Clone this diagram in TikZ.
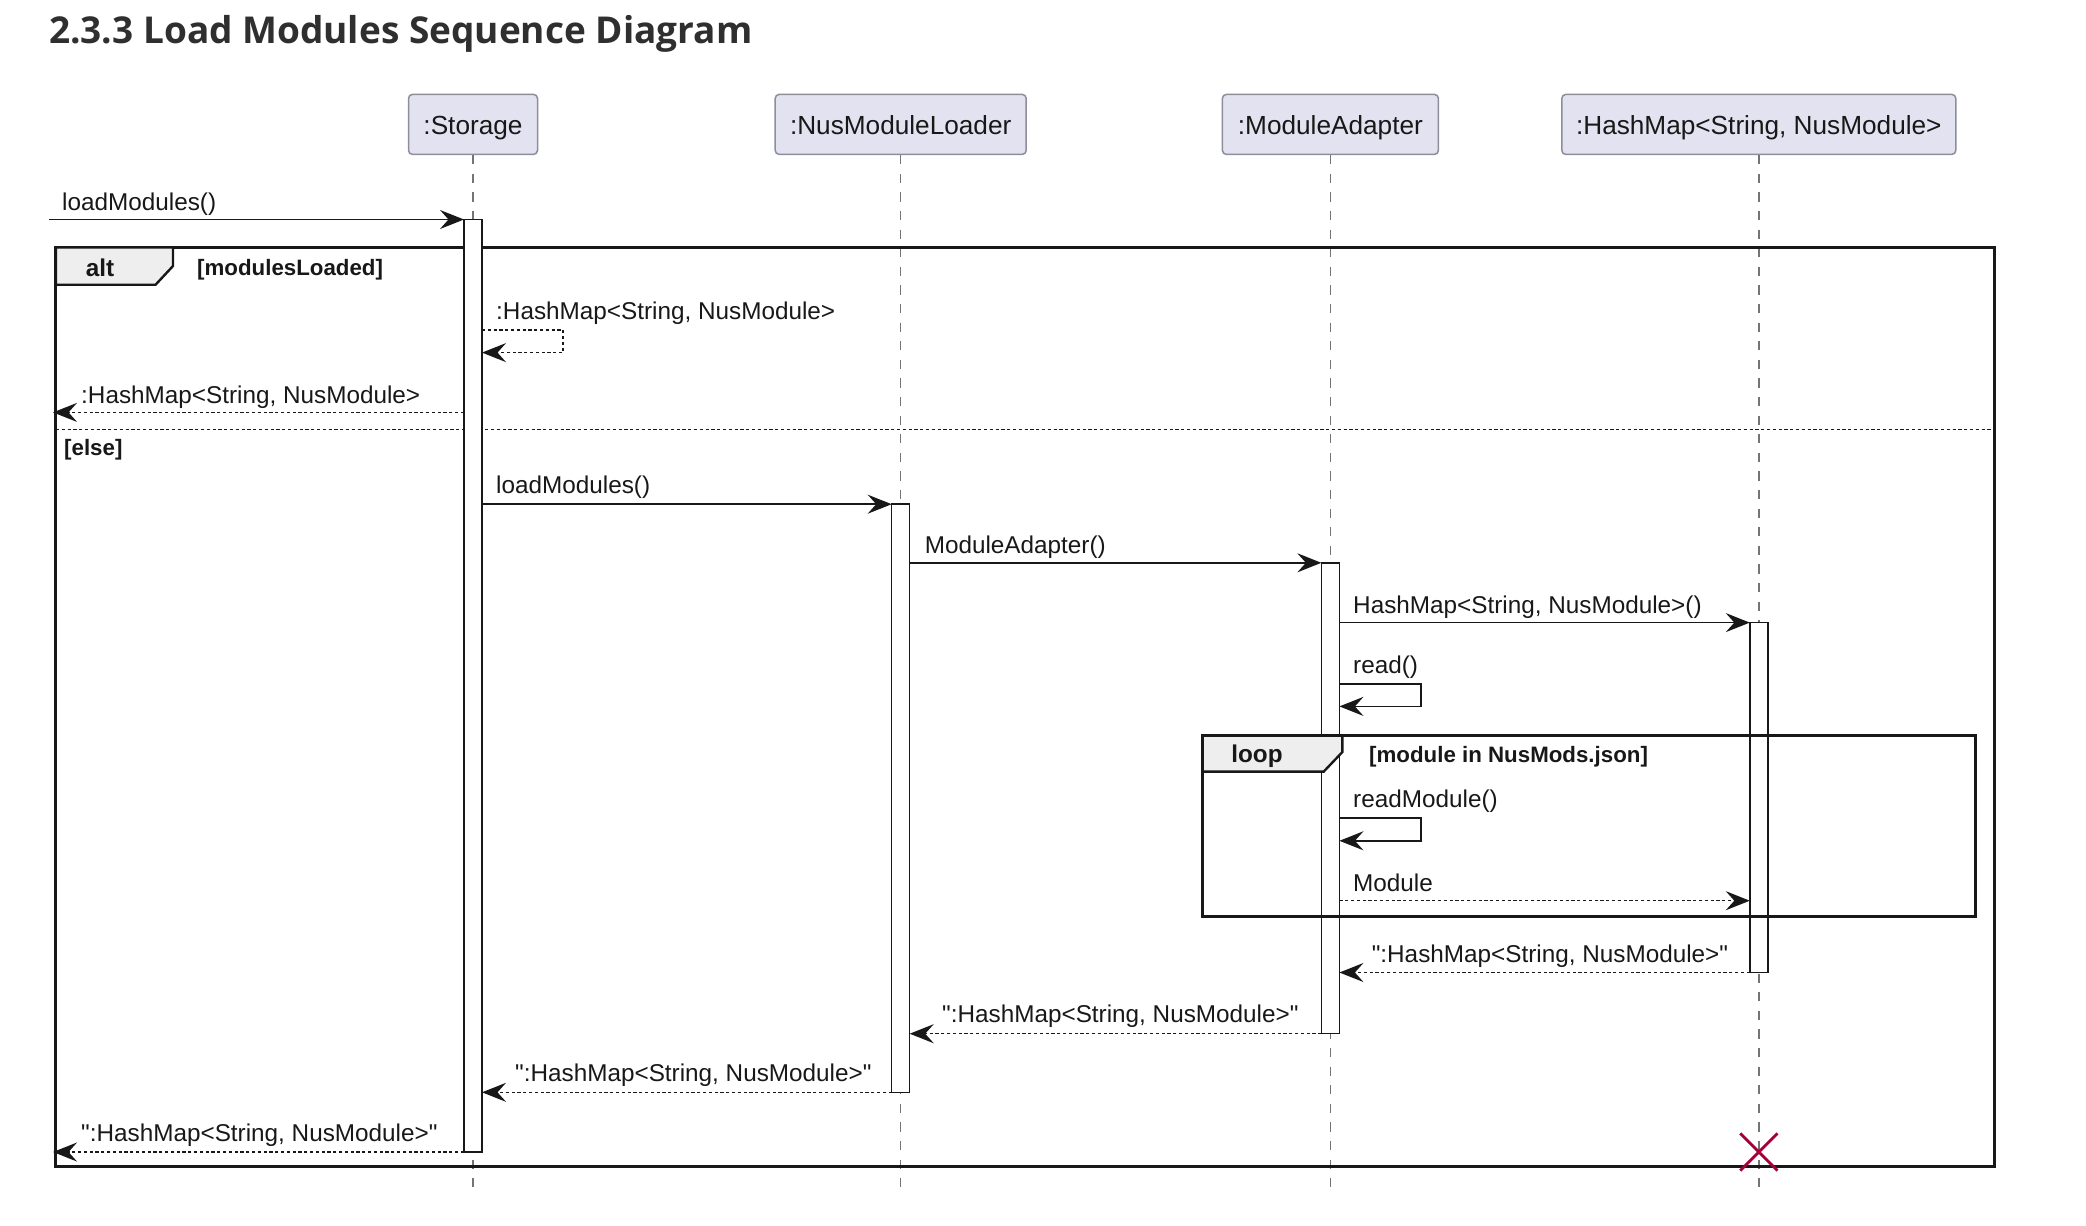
\documentclass[tikz,border=0pt]{standalone}
\usepackage{fontspec}
\setmainfont{Liberation Sans}
\newfontfamily\titlefont{Open Sans}
\usetikzlibrary{arrows.meta}
\newcommand\dq{\XeTeXglyph\XeTeXcharglyph"22\relax}
\definecolor{ink}{HTML}{181818}
\definecolor{partfill}{HTML}{E2E2F0}
\definecolor{partdraw}{HTML}{8E8E9A}
\definecolor{tabfill}{HTML}{EEEEEE}
\definecolor{destroyc}{HTML}{A80036}
\tikzset{
  tip/.tip={Stealth[length=24pt,width=19pt,inset=8.5pt]},
  msg/.style={draw=ink, line width=1.5pt, -tip},
  ret/.style={msg, dash pattern=on 3.2pt off 2.6pt},
  lbl/.style={anchor=base west, inner sep=0pt, font=\fontsize{24.3}{29}\selectfont, text=ink},
  part/.style={draw=partdraw, fill=partfill, rounded corners=4pt, line width=1.5pt,
    font=\fontsize{26.2}{31}\selectfont, minimum height=60pt, inner sep=0pt, text=ink,
    text height=20pt, text depth=0pt},
  act/.style={draw=ink, fill=white, line width=1.5pt},
  lifeline/.style={draw=ink!60, line width=1.4pt, dash pattern=on 9.3pt off 9.3pt},
  framebox/.style={draw=ink, line width=3pt},
  tabbox/.style={draw=ink, fill=tabfill, line width=2.4pt, line join=miter},
  tabtext/.style={inner sep=0pt, font=\fontsize{24.3}{29}\selectfont\bfseries, text=ink},
  guard/.style={anchor=base west, inner sep=0pt, font=\fontsize{22.3}{26}\selectfont\bfseries, text=ink},
  sep/.style={draw=ink, line width=1.5pt, dash pattern=on 3.2pt off 2.6pt},
  destroyx/.style={draw=destroyc, line width=2.8pt},
}
\begin{document}
\begin{tikzpicture}[x=1pt,y=-1pt]
\useasboundingbox (0,0) rectangle (2086,1226);
% title
\node[anchor=base west, inner sep=0pt, font=\titlefont\fontsize{37}{44}\selectfont\bfseries, text=ink!90] (title) at (49,43) {2.3.3 Load Modules Sequence Diagram};

% participants
\node[part, minimum width=129pt] (p1) at (473,124.4) {:Storage};
\node[part, minimum width=251pt] (p2) at (900.7,124.4) {:NusModuleLoader};
\node[part, minimum width=216pt] (p3) at (1330.4,124.4) {:ModuleAdapter};
\node[part, minimum width=394pt] (p4) at (1758.8,124.4) {:HashMap<String, NusModule>};

% lifeline ends
\coordinate (e1) at (473,1191);
\coordinate (e2) at (900.7,1191);
\coordinate (e3) at (1330.4,1191);
\coordinate (e4) at (1758.8,1191);
\draw[lifeline] (p1.south) -- (e1);
\draw[lifeline] (p2.south) -- (e2);
\draw[lifeline] (p3.south) -- (e3);
\draw[lifeline] (p4.south) -- (e4);

% frames
\draw[framebox] (55.9,247.5) rectangle (1994.3,1166.8);
\draw[tabbox] (55.9,247.5) -- (173,247.5) -- (173,266) -- (155.6,284.7) -- (55.9,284.7) -- cycle;
\node[tabtext] (altlbl) at (100,268) {alt};
\node[guard] (g1) at (197,275.5) {[modulesLoaded]};
\draw[sep] (55.9,429.7) -- (1994.3,429.7);
\node[guard] (g2) at (64,455) {[else]};

% activation bars
\draw[act] (464,219.5) rectangle (482,1152);
\draw[act] (891.7,504.2) rectangle (909.7,1092.3);
\draw[act] (1321.4,562.8) rectangle (1339.4,1033.7);
\draw[act] (1749.8,622.6) rectangle (1767.8,972.5);

% loop frame
\draw[framebox] (1202.7,735.7) rectangle (1975.6,916.6);
\draw[tabbox] (1202.7,735.7) -- (1342.4,735.7) -- (1342.4,752) -- (1323.7,771.6) -- (1202.7,771.6) -- cycle;
\node[tabtext] (looplbl) at (1257,756.5) {loop};
\node[guard] (g3) at (1369,762) {[module in NusMods.json]};

% messages
\coordinate (m1s) at (49,219.5);
\coordinate (m1e) at (464,219.5);
\draw[msg] (m1s) -- (m1e);
\node[lbl] (l1) at (62,210) {loadModules()};

\coordinate (s1a) at (482,330);
\coordinate (s1b) at (563,330);
\coordinate (s1c) at (563,352.6);
\coordinate (s1d) at (482,352.6);
\draw[ret] (s1a) -- (s1b) -- (s1c) -- (s1d);
\node[lbl] (l2) at (496,319) {:HashMap<String, NusModule>};

\coordinate (r1s) at (464,412.4);
\coordinate (r1e) at (53,412.4);
\draw[ret] (r1s) -- (r1e);
\node[lbl] (l3) at (81,403) {:HashMap<String, NusModule>};

\coordinate (m2s) at (482,504.2);
\coordinate (m2e) at (891.7,504.2);
\draw[msg] (m2s) -- (m2e);
\node[lbl] (l4) at (496,493.5) {loadModules()};

\coordinate (m3s) at (909.7,562.8);
\coordinate (m3e) at (1321.4,562.8);
\draw[msg] (m3s) -- (m3e);
\node[lbl] (l5) at (924.6,553) {ModuleAdapter()};

\coordinate (m4s) at (1339.4,622.6);
\coordinate (m4e) at (1749.8,622.6);
\draw[msg] (m4s) -- (m4e);
\node[lbl] (l6) at (1353,613) {HashMap<String, NusModule>()};

\coordinate (s2a) at (1339.4,683.8);
\coordinate (s2b) at (1421,683.8);
\coordinate (s2c) at (1421,706.4);
\coordinate (s2d) at (1339.4,706.4);
\draw[msg] (s2a) -- (s2b) -- (s2c) -- (s2d);
\node[lbl] (l7) at (1353,673) {read()};

\coordinate (s3a) at (1339.4,818.2);
\coordinate (s3b) at (1421,818.2);
\coordinate (s3c) at (1421,840.8);
\coordinate (s3d) at (1339.4,840.8);
\draw[msg] (s3a) -- (s3b) -- (s3c) -- (s3d);
\node[lbl] (l8) at (1353,807) {readModule()};

\coordinate (m5s) at (1339.4,900.7);
\coordinate (m5e) at (1749.8,900.7);
\draw[ret] (m5s) -- (m5e);
\node[lbl] (l9) at (1353,891) {Module};

\coordinate (r2s) at (1749.8,972.5);
\coordinate (r2e) at (1339.4,972.5);
\draw[ret] (r2s) -- (r2e);
\node[lbl] (l10) at (1371.6,962.5) {\dq:HashMap<String, NusModule>\dq};

\coordinate (r3s) at (1321.4,1033.7);
\coordinate (r3e) at (909.7,1033.7);
\draw[ret] (r3s) -- (r3e);
\node[lbl] (l11) at (942,1022.5) {\dq:HashMap<String, NusModule>\dq};

\coordinate (r4s) at (891.7,1092.3);
\coordinate (r4e) at (482,1092.3);
\draw[ret] (r4s) -- (r4e);
\node[lbl] (l12) at (515,1081) {\dq:HashMap<String, NusModule>\dq};

\coordinate (r5s) at (464,1152);
\coordinate (r5e) at (53,1152);
\draw[ret] (r5s) -- (r5e);
\node[lbl] (l13) at (81,1141) {\dq:HashMap<String, NusModule>\dq};

% destroy
\coordinate (xc) at (1758.8,1152);
\draw[destroyx] ([shift={(-18.6,-18.6)}]xc) -- ([shift={(18.6,18.6)}]xc);
\draw[destroyx] ([shift={(-18.6,18.6)}]xc) -- ([shift={(18.6,-18.6)}]xc);
\end{tikzpicture}
\end{document}
